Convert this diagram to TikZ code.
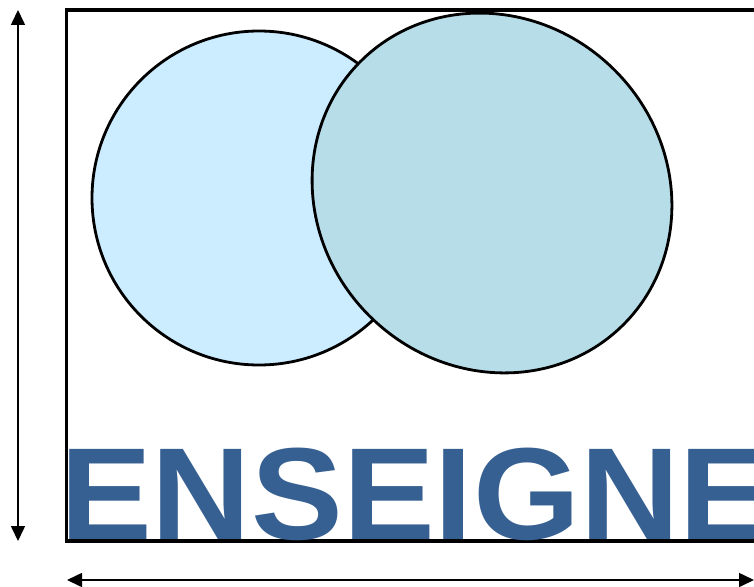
\documentclass[tikz,border=0pt]{standalone}
\usepackage{fontspec}
\setmainfont{Liberation Sans}
\usetikzlibrary{arrows.meta}
\definecolor{leftfill}{HTML}{CCECFF}
\definecolor{rightfill}{HTML}{B7DDE8}
\definecolor{textblue}{HTML}{376092}
\tikzset{
  dimarrow/.style={line width=1.6pt,{Triangle[length=15pt,width=14pt]}-{Triangle[length=15pt,width=14pt]}},
  frame/.style={line width=3.2pt},
  disc/.style={draw=black,line width=2.8pt},
  bigword/.style={text=textblue,font=\fontsize{131}{131}\selectfont\bfseries,inner sep=0pt,anchor=base west,xscale=1.05}
}
\begin{document}
\begin{tikzpicture}[x=1pt,y=-1pt]
\useasboundingbox (0,0) rectangle (754,586);
\draw[frame] (66.5,10) rectangle (800,541);
\draw[disc,fill=leftfill] (259,198) circle[radius=167];
\draw[disc,fill=rightfill] (492,193) ellipse[x radius=186, y radius=173.6, rotate=-45];
\node[bigword] (word) at (60,539) {ENSEIGNE};
\coordinate (vtop) at (18,10);
\coordinate (vbot) at (18,541);
\coordinate (hleft) at (67,580);
\coordinate (hright) at (754,580);
\draw[dimarrow] (vtop) -- (vbot);
\draw[dimarrow] (hleft) -- (hright);
\end{tikzpicture}
\end{document}
